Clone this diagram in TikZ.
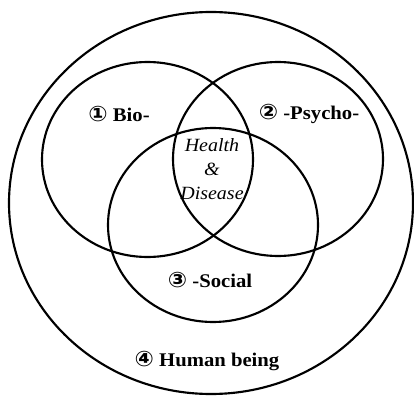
\documentclass[tikz,border=0pt]{standalone}
\usepackage{fontspec}
\setmainfont{Liberation Serif}
\newfontfamily\circfont{DejaVu Sans}

\begin{document}
\begin{tikzpicture}[x=0.75pt,y=-0.75pt,line width=1.6pt]
\tikzset{lbl/.style={font=\bfseries\fontsize{14.5}{17}\selectfont, xscale=1.07, inner sep=0pt},
  hd/.style={font=\itshape\fontsize{14}{18}\selectfont, xscale=1.07, align=center, inner sep=0pt}}
\newcommand{\circnum}[1]{{\circfont\fontsize{16}{17}\selectfont #1}}
\useasboundingbox (0,0) rectangle (414,396);

% outer ring: the human being
\draw (211,203) ellipse [x radius=202, y radius=191];

% the three fields
\draw (147.5,159.5) ellipse [x radius=105.5, y radius=97.5];
\draw (278,159) ellipse [x radius=105, y radius=97];
\draw (213,225) ellipse [x radius=105, y radius=97];

% labels
\node[lbl] (bio) at (119,114) {\circnum{①} Bio-};
\node[lbl] (psycho) at (309,114) {\circnum{②} -Psycho-};
\node[lbl] (social) at (210,280) {\circnum{③} -Social};
\node[lbl] (human) at (207,361) {\circnum{④} Human being};
\node[hd] (health) at (212,169) {Health\\\&\\Disease};
\end{tikzpicture}
\end{document}
